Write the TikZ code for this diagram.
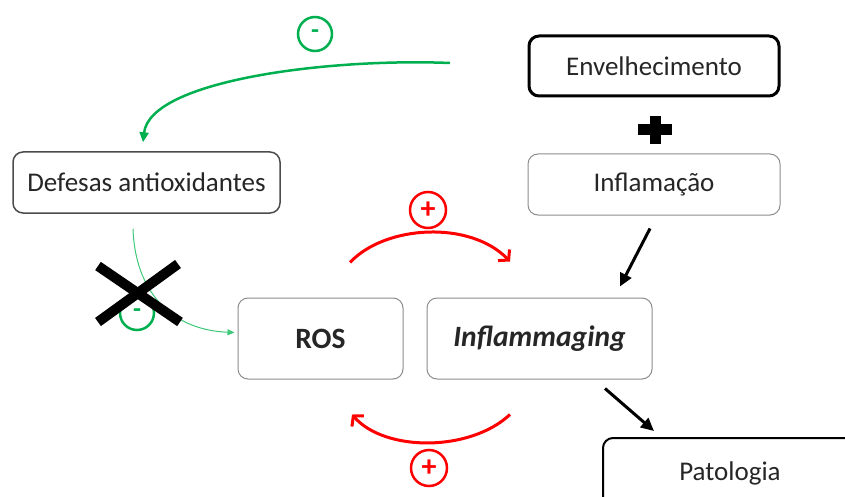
\documentclass[tikz,border=0pt]{standalone}
\usepackage{fontspec}
\setmainfont{Carlito}
\usetikzlibrary{arrows.meta,calc}
\definecolor{ogreen}{HTML}{00B050}
\definecolor{lgreen}{HTML}{3CC878}
\definecolor{ored}{HTML}{FF0000}
\definecolor{txt}{HTML}{262626}
\tikzset{
  box/.style={draw, rounded corners=10pt, align=center, text=txt, font=\fontsize{27}{30}\selectfont, inner sep=0pt},
  thinbox/.style={box, draw=black!45, line width=1pt},
  boldtxt/.style={font=\fontsize{29.5}{32}\selectfont\bfseries},
  redarc/.style={draw=ored, line width=3pt, -{Straight Barb[length=7pt,width=16pt]}},
  blackarrow/.style={line width=3pt, -{Triangle[length=13pt,width=12pt]}},
  pluscircle/.style={circle, draw=ored, line width=2.5pt, minimum size=36pt, inner sep=0pt, text=ored, font=\fontsize{30}{30}\selectfont\bfseries},
  minuscircle/.style={circle, draw=ogreen, line width=2.5pt, minimum size=34pt, inner sep=0pt, text=ogreen, font=\fontsize{26}{26}\selectfont\bfseries},
}
\begin{document}
\begin{tikzpicture}[x=1pt,y=-1pt]
\useasboundingbox (0,0) rectangle (845,497);
\clip (0,0) rectangle (845,497);

\node[box, line width=3pt, minimum width=250pt, minimum height=60pt] (env) at (654,66) {Envelhecimento};
\node[thinbox, minimum width=252pt, minimum height=61pt] (infl) at (654,184.5) {Inflamação};
\node[box, draw=black!70, line width=1.5pt, minimum width=267pt, minimum height=61pt] (def) at (146.5,182.5) {Defesas antioxidantes};
\node[thinbox, boldtxt, minimum width=165pt, minimum height=81pt] (ros) at (320.5,338.5) {ROS};
\node[thinbox, boldtxt, minimum width=225pt, minimum height=81pt] (inf) at (539.5,338.5) {\itshape Inflammaging};
\node[box, line width=2pt, minimum width=254pt, minimum height=80pt] (pat) at (730,478) {\raisebox{14pt}{Patologia}};

% plus shape between boxes
\fill (638,124.5) rectangle (672,135.5);
\fill (649.5,116) rectangle (660.5,144);

% green top arrow
\coordinate (gstart) at (450,63);
\draw[ogreen, line width=2.5pt, -{Triangle[length=10pt,width=9pt]}] (gstart) .. controls (330,58) and (150,80) .. ($(def.north)+(-3.5,-9)$);
\node[minuscircle] (m1) at (315,34) {-};

% green thin arrow
\draw[lgreen, line width=1pt, -{Triangle[length=7pt,width=6pt]}] ($(def.south)+(-13.5,15)$) .. controls (135,290) and (170,330) .. ($(ros.west)+(-3,-6)$);
\node[minuscircle] (m2) at (137,313) {-};
\draw[line width=10pt] (98,266) -- (180,322);
\draw[line width=10pt] (178,264) -- (98,322);

% red arcs
\draw[redarc] ($(ros.north)+(29.5,-35)$) .. controls (385,225) and (470,220) .. ($(inf.north)+(-29.5,-36)$);
\node[pluscircle] (p1) at (428,210) {+};
\draw[redarc] ($(inf.south)+(-29.5,35)$) .. controls (470,452) and (385,452) .. ($(ros.south)+(31.5,35)$);
\node[pluscircle] (p2) at (429,468) {+};

% black arrows
\draw[blackarrow] ($(infl.south)+(-4,13)$) -- ($(inf.north)+(80.5,-11)$);
\draw[blackarrow] ($(inf.south)+(65.5,9)$) -- ($(pat.north west)+(52,-6)$);
\end{tikzpicture}
\end{document}
